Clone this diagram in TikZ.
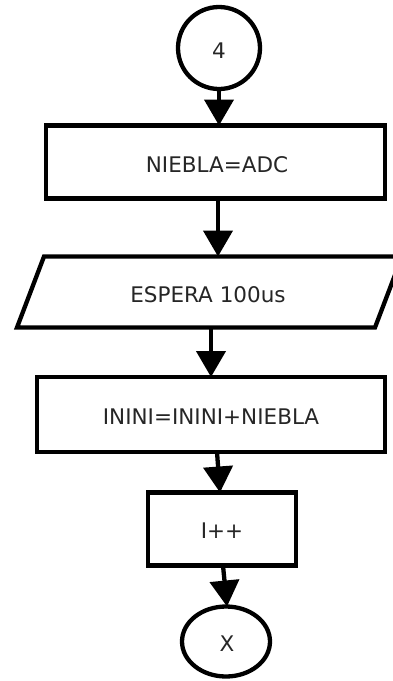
\documentclass[tikz,border=0pt]{standalone}
\usepackage{fontspec}
\setmainfont{DejaVu Sans}
\usetikzlibrary{arrows.meta,shapes.geometric}
\begin{document}
\begin{tikzpicture}[x=1pt,y=-1pt,line width=4.3pt,
  procbox/.style={draw, rectangle, inner sep=0pt, outer sep=0pt},
  conncircle/.style={draw, circle, inner sep=0pt, outer sep=0pt},
  connellipse/.style={draw, ellipse, inner sep=0pt, outer sep=0pt},
  ghost/.style={rectangle, inner sep=0pt, outer sep=0pt},
  lbl/.style={font=\fontsize{21.5}{26}\selectfont, text=black!85, inner sep=0pt},
  flow/.style={-{Triangle[width=29pt,length=26pt]}}]
\useasboundingbox (0,0) rectangle (393,681);
\clip (0,0) rectangle (393,681);
\fill[white] (0,0) rectangle (393,681);
% nodes
\node[conncircle, minimum size=82pt] (c4) at (219,48) {};
\node[lbl] (t0) at (219,51) {4};
\node[procbox, minimum width=339pt, minimum height=73pt] (box1) at (215.5,162) {};
\node[lbl] (t1) at (217,165) {NIEBLA=ADC};
\node[ghost, minimum width=358pt, minimum height=71pt] (para) at (209.5,292) {};
\draw[line join=miter] ([xshift=13.5pt]para.north west) -- ([xshift=13.5pt]para.north east)
  -- ([xshift=-13.5pt]para.south east) -- ([xshift=-13.5pt]para.south west) -- cycle;
\node[lbl] (t2) at (208,295) {ESPERA 100us};
\node[procbox, minimum width=348pt, minimum height=75pt] (box3) at (211,414.5) {};
\node[lbl] (t3) at (211,417) {ININI=ININI+NIEBLA};
\node[procbox, minimum width=148pt, minimum height=73pt] (box4) at (222,529) {};
\node[lbl] (t4) at (222,531) {I++};
\node[connellipse, minimum width=88pt, minimum height=70pt] (ellX) at (226,641.5) {};
\node[lbl] (t5) at (227,644) {X};
% connectors
\draw[flow] (c4.south) -- (c4.south |- box1.north);
\coordinate (a1) at ([xshift=2.5pt]box1.south);
\draw[flow] (a1) -- (a1 |- para.north);
\coordinate (a3) at (box3.north |- para.south);
\draw[flow] (a3) -- (box3.north);
\draw[flow] ([xshift=6pt]box3.south) -- ([xshift=-2pt]box4.north);
\draw[flow] ([xshift=1pt]box4.south) -- ([xshift=1pt]ellX.north);
\end{tikzpicture}
\end{document}
